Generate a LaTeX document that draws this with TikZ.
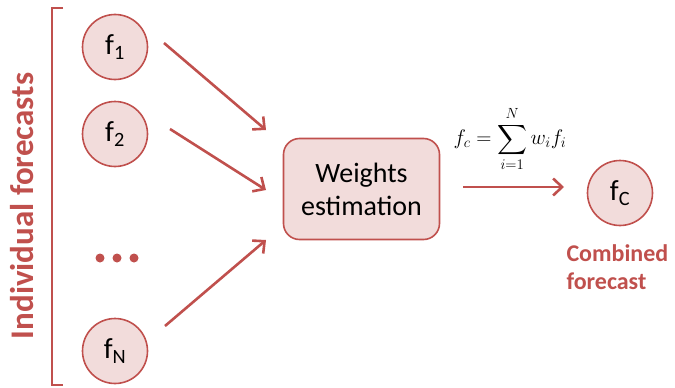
\RequirePackage{fix-cm}
\documentclass[tikz,border=0pt]{standalone}
\usepackage{exscale}
\usepackage{fontspec}
\setmainfont{Carlito}
\usetikzlibrary{arrows.meta}
\definecolor{cred}{HTML}{C0504D}
\definecolor{cpink}{HTML}{F2DCDB}
\tikzset{
  fc/.style={circle,draw=cred,fill=cpink,line width=1.6pt,minimum size=65pt,inner sep=0pt,font=\fontsize{29}{30}\selectfont},
  wbox/.style={rectangle,rounded corners=16pt,draw=cred,fill=cpink,line width=1.6pt,minimum width=156pt,minimum height=101pt,align=center,font=\fontsize{28}{33}\selectfont},
  arr/.style={draw=cred,line width=2.6pt,-{Straight Barb[length=9pt,width=17pt,line width=2.6pt]}},
  dotn/.style={circle,fill=cred,inner sep=0pt,minimum size=9pt},
  redlbl/.style={text=cred,font=\bfseries\fontsize{24}{28}\selectfont,align=left}
}
\begin{document}
\begin{tikzpicture}[x=1pt,y=-1pt]
\useasboundingbox (0,0) rectangle (675,388);
% bracket
\coordinate (bt) at (63,8);
\coordinate (btl) at (52,8);
\coordinate (bbl) at (52,385);
\coordinate (bb) at (63,385);
\draw[cred,line width=2pt] (bt) -- (btl) -- (bbl) -- (bb);
\node[rotate=90,text=cred,font=\bfseries\fontsize{33}{36}\selectfont] (lbl) at (22,206) {Individual forecasts};
% forecasts
\node[fc] (f1) at (115,47) {f\textsubscript{1}};
\node[fc] (f2) at (115,134) {f\textsubscript{2}};
\node[dotn] (d1) at (100,258) {};
\node[dotn] (d2) at (117,258) {};
\node[dotn] (d3) at (134,258) {};
\node[fc] (fN) at (115,351) {f\textsubscript{N}};
% box
\node[wbox] (w) at (361.5,189) {Weights\\estimation};
% combined
\node[fc] (fC) at (620,193) {f\textsubscript{C}};
\node[redlbl,anchor=north west] (cl) at (563,241) {Combined\\forecast};
% formula
\node[font=\fontsize{21}{24}\selectfont,inner sep=0pt] (eq) at (510,139) {$\displaystyle f_c=\sum_{i=1}^{N} w_i f_i$};
% arrows
\coordinate (a1s) at (164,43);
\coordinate (a1e) at (266,130);
\coordinate (a2s) at (170,129);
\coordinate (a2e) at (266,190);
\coordinate (a3s) at (165,326);
\coordinate (a3e) at (266,240);
\coordinate (a4s) at (463,187);
\coordinate (a4e) at (564,187);
\draw[arr] (a1s) -- (a1e);
\draw[arr] (a2s) -- (a2e);
\draw[arr] (a3s) -- (a3e);
\draw[arr] (a4s) -- (a4e);
\end{tikzpicture}
\end{document}
